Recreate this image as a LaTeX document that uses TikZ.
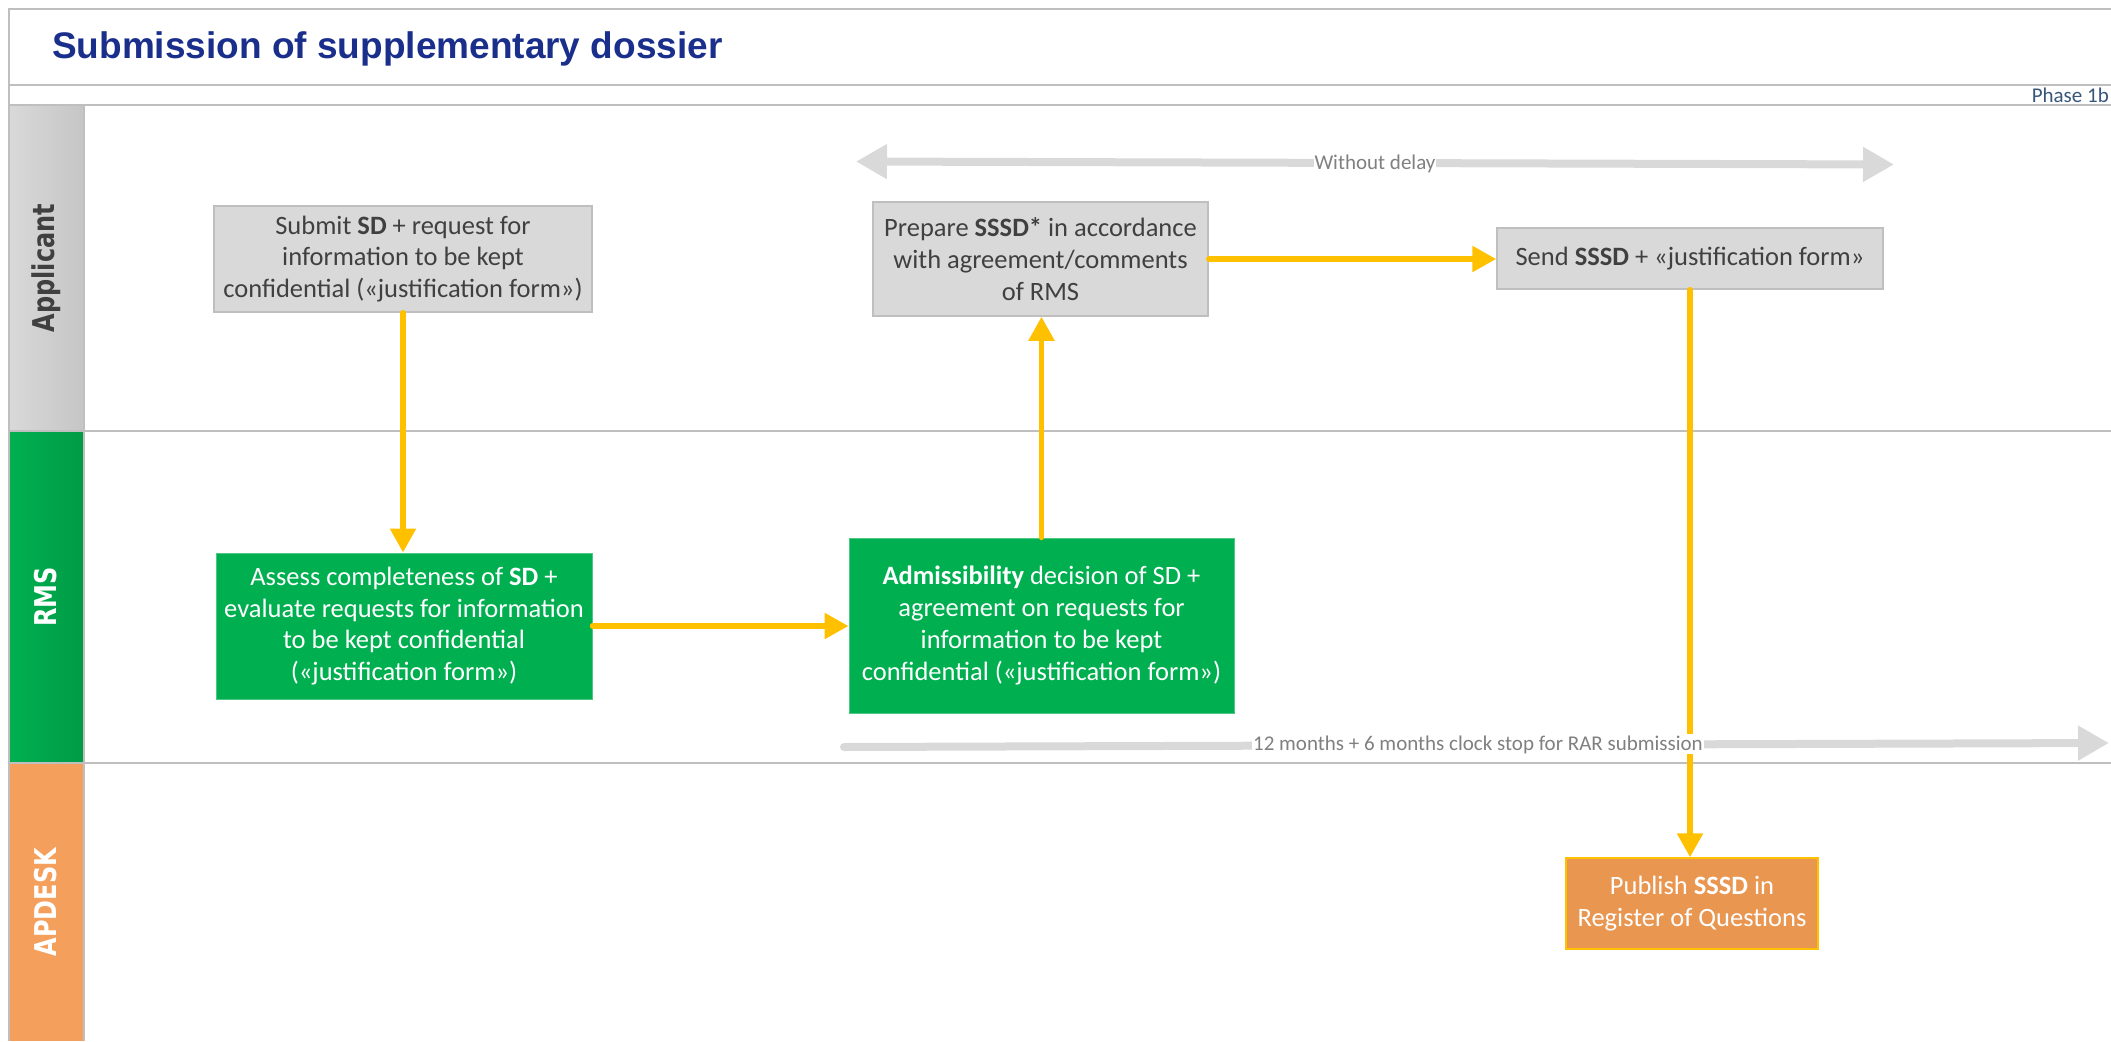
\documentclass[tikz,border=0pt]{standalone}
\usepackage{fontspec}
\usepackage{graphicx}
\setmainfont{Carlito}
\newfontfamily\titlefont{Liberation Sans}
\newfontfamily\lanefont{DejaVu Sans}
\usetikzlibrary{arrows.meta}

\definecolor{framegray}{RGB}{191,191,191}
\definecolor{boxgray}{RGB}{217,217,217}
\definecolor{textgray}{RGB}{64,64,64}
\definecolor{rmsgreen}{RGB}{0,176,80}
\definecolor{rmsdark}{RGB}{0,155,70}
\definecolor{deskorange}{RGB}{244,160,92}
\definecolor{pubfill}{RGB}{233,150,80}
\definecolor{flowyellow}{RGB}{255,192,0}
\definecolor{titleblue}{RGB}{26,46,140}
\definecolor{phaseblue}{RGB}{56,86,122}
\definecolor{timegray}{RGB}{217,217,217}
\definecolor{timetext}{RGB}{128,128,128}

\begin{document}
\begin{tikzpicture}[x=1pt,y=-1pt,
    frame/.style={draw=framegray,line width=2pt},
    boxtext/.style={align=center,inner sep=0pt,font=\fontsize{26.5}{31.7}\selectfont},
    applbox/.style={boxtext,draw=framegray,line width=1.5pt,fill=boxgray,text=textgray},
    rmsbox/.style={boxtext,draw=rmsgreen!70!white,line width=1pt,fill=rmsgreen,text=white},
    deskbox/.style={boxtext,draw=flowyellow,line width=1.5pt,fill=pubfill,text=white},
    flow/.style={draw=flowyellow,line width=5.5pt,line cap=round,-{Triangle[length=24pt,width=25pt]}},
    timeline/.style={draw=timegray,line width=8pt},
    timelabel/.style={anchor=base,fill=white,inner sep=1pt,text=timetext,font=\fontsize{21}{25}\selectfont},
    lanelabel/.style={rotate=90,font=\lanefont\bfseries\fontsize{30}{36}\selectfont}
  ]
  \useasboundingbox (0,0) rectangle (2111,1041);

  % lane headers
  \fill[left color=boxgray,right color=framegray!90!white] (9,105) rectangle (84,431);
  \fill[left color=rmsgreen,right color=rmsdark] (9,431) rectangle (84,763);
  \fill[deskorange] (9,763) rectangle (84,1041);

  % frame and lane lines
  \draw[frame] (9,1041) -- (9,9) -- (2111,9);
  \foreach \y in {85,105,431,763}{%
    \draw[frame] (9,\y) -- (2111,\y);
  }
  \draw[frame] (84,105) -- (84,1041);

  \node[anchor=base west,inner sep=0pt,text=titleblue,
        font=\titlefont\bfseries\fontsize{37}{44}\selectfont] (Title) at (52,59)
        {Submission of supplementary dossier};
  \node[anchor=base east,inner sep=0pt,text=phaseblue,
        font=\fontsize{21}{25}\selectfont] (Phase) at (2109,102) {Phase 1b};

  \node[lanelabel,text=textgray] (LaneAppl) at (46,268) {\scalebox{0.8}[1]{Applicant}};
  \node[lanelabel,text=white] (LaneRms) at (46,597) {\scalebox{0.8}[1]{RMS}};
  \node[lanelabel,text=white] (LaneDesk) at (46,902) {\scalebox{0.8}[1]{APDESK}};

  % time spans
  \coordinate (DelayA) at (856,161.5);
  \coordinate (DelayB) at (1894,164.5);
  \coordinate (ClockA) at (844,747);
  \coordinate (ClockB) at (2109,743);
  \draw[timeline,{Triangle[length=31pt,width=33pt]}-{Triangle[length=31pt,width=33pt]}] (DelayA) -- (DelayB);
  \draw[timeline,line cap=round,-{Triangle[length=31pt,width=33pt]}] (ClockA) -- (ClockB);

  % steps
  \node[applbox,minimum width=378pt,minimum height=106pt] (Submit) at (403,259)
    {Submit \textbf{SD} + request for\\information to be kept\\confidential («justification form»)};
  \node[applbox,minimum width=335pt,minimum height=114pt] (Prepare) at (1040.5,259)
    {Prepare \textbf{SSSD*} in accordance\\with agreement/comments\\of RMS};
  \node[applbox,minimum width=386pt,minimum height=61pt] (Send) at (1690,258.5)
    {Send \textbf{SSSD} + «justification form»};
  \node[rmsbox,minimum width=376pt,minimum height=146pt] (Assess) at (404,626)
    {Assess completeness of \textbf{SD} +\\evaluate requests for information\\to be kept confidential\\(«justification form»)};
  \node[rmsbox,minimum width=385pt,minimum height=175pt] (Adm) at (1041.5,625.5)
    {\textbf{Admissibility} decision of SD +\\agreement on requests for\\information to be kept\\confidential («justification form»)};
  \node[deskbox,minimum width=252pt,minimum height=91pt] (Publish) at (1692,903.5)
    {Publish \textbf{SSSD} in\\Register of Questions};

  \draw[flow] (Submit.south) -- (Submit.south |- Assess.north);
  \draw[flow] (Assess.east) -- (Assess.east -| Adm.west);
  \draw[flow] (Adm.north) -- (Adm.north |- Prepare.south);
  \draw[flow] (Prepare.east) -- (Prepare.east -| Send.west);
  \draw[flow] (Send.south) -- (Send.south |- Publish.north);

  \node[timelabel] (Delay) at (1375,169) {Without delay};
  \node[timelabel] (Clock) at (1478,750) {12 months + 6 months clock stop for RAR submission};
\end{tikzpicture}
\end{document}
